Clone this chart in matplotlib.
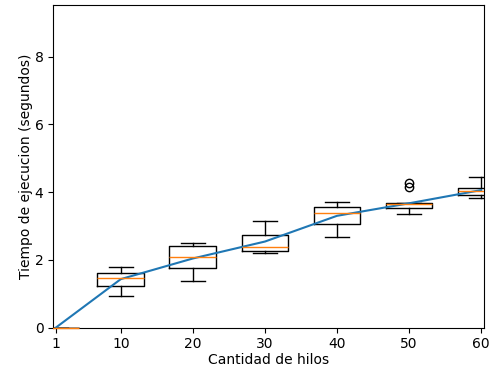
import matplotlib
matplotlib.use('Agg')
import matplotlib.pyplot as plt
from matplotlib.transforms import Bbox, TransformedBbox

# tiempos medidos por cantidad de hilos
hilos = [1, 10, 20, 30, 40, 50, 60]
minimos = [0.0, 0.94, 1.37, 2.19, 2.66, 3.34, 3.82]
q1 = [0.0, 1.23, 1.77, 2.26, 3.05, 3.52, 3.91]
medianas = [0.0, 1.45, 2.07, 2.39, 3.37, 3.64, 4.04]
q3 = [0.0, 1.62, 2.42, 2.73, 3.55, 3.67, 4.13]
maximos = [0.0, 1.80, 2.50, 3.15, 3.70, 3.67, 4.46]
atipicos = [[], [], [], [], [], [4.16, 4.27], []]
promedios = [0.0, 1.43, 2.04, 2.54, 3.30, 3.67, 4.06]

stats = []
for i in range(len(hilos)):
    stats.append({
        'whislo': minimos[i], 'q1': q1[i], 'med': medianas[i],
        'q3': q3[i], 'whishi': maximos[i], 'fliers': atipicos[i],
    })

fig = plt.figure(figsize=(4.92, 3.68), dpi=100)
ax = fig.add_axes([0.1083, 0.110, 0.8754, 0.8756])

res = ax.bxp(stats, positions=hilos, widths=6.5, manage_ticks=False)
for med in res['medians']:
    med.set_zorder(3)
# la mediana del primer grupo cae justo sobre el eje: recortar solo a los lados
caja = TransformedBbox(Bbox([[0, -0.05], [1, 1]]), ax.transAxes)
res['medians'][0].set_clip_path(None)
res['medians'][0].set_clip_box(caja)
ax.plot(hilos, promedios, color='C0')

ax.set_xticks(hilos)
ax.set_xticklabels([str(h) for h in hilos])
ax.set_xlim(0.63, 60.4)
ax.set_ylim(0, 9.52)
ax.set_xlabel('Cantidad de hilos', labelpad=1)
ax.set_ylabel('Tiempo de ejecucion (segundos)', labelpad=1)

fig.savefig('out.png', dpi=100)
